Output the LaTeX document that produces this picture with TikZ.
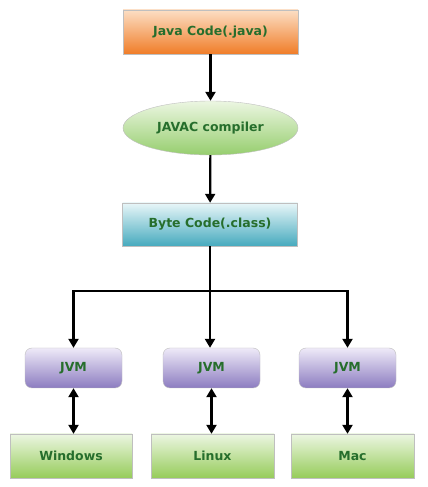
\documentclass[tikz,border=0pt]{standalone}
\usepackage{fontspec}
\setmainfont{DejaVu Sans}
\usetikzlibrary{arrows.meta,shapes.geometric}

\definecolor{txtgreen}{RGB}{38,110,44}

\begin{document}
\begin{tikzpicture}[x=1pt,y=1pt,
    box/.style={rectangle, minimum width=175pt, minimum height=44pt, draw=gray!50,
        font=\bfseries\fontsize{12.5}{14}\selectfont, text=txtgreen},
    javabox/.style={box, top color={rgb,255:red,252;green,222;blue,196}, bottom color={rgb,255:red,240;green,125;blue,40}},
    bytebox/.style={box, minimum height=43pt, top color={rgb,255:red,232;green,246;blue,248}, bottom color={rgb,255:red,70;green,170;blue,190}},
    jvmbox/.style={box, rounded corners=7pt, minimum width=97pt, minimum height=40pt,
        top color={rgb,255:red,238;green,234;blue,248}, bottom color={rgb,255:red,140;green,124;blue,192}},
    osbox/.style={box, minimum width=122pt, minimum height=44pt,
        top color={rgb,255:red,236;green,246;blue,226}, bottom color={rgb,255:red,150;green,204;blue,90}},
    arr/.style={line width=2.2pt, -{Triangle[length=9pt,width=10pt]}},
    darr/.style={line width=2.2pt, {Triangle[length=9pt,width=10pt]}-{Triangle[length=9pt,width=10pt]}}
]
\useasboundingbox (0,0) rectangle (428,487);
\fill[white] (0,0) rectangle (428,487);

% Compile steps
\node[javabox] (java) at (210.5,455) {Java Code(.java)};
\node[ellipse, minimum width=175pt, minimum height=54pt, draw=gray!50,
    top color={rgb,255:red,236;green,246;blue,226}, bottom color={rgb,255:red,150;green,206;blue,110},
    font=\bfseries\fontsize{12.5}{14}\selectfont, text=txtgreen] (javac) at (210.5,359) {JAVAC compiler};
\node[bytebox] (byte) at (210,262.5) {Byte Code(.class)};
\coordinate (split) at (210,196);

% JVMs
\node[jvmbox] (jvmwin) at (73.5,119) {JVM};
\node[jvmbox] (jvmlin) at (211.5,119) {JVM};
\node[jvmbox] (jvmmac) at (347.5,119) {JVM};

% Platforms
\node[osbox] (win) at (71,31) {Windows};
\node[osbox, minimum width=123pt] (lin) at (212.5,31) {Linux};
\node[osbox, minimum width=123pt] (mac) at (352.5,31) {Mac};

% Arrows
\draw[arr] (java) -- (javac);
\draw[arr] (javac) -- (byte);
\draw[line width=2.2pt] (byte) -- (split);
\draw[arr] (split) -| (jvmwin.north);
\draw[arr] (split) -- (split |- jvmlin.north);
\draw[arr] (split) -| (jvmmac.north);
\draw[darr] (jvmwin.south) -- (jvmwin.south |- win.north);
\draw[darr] (jvmlin.south) -- (jvmlin.south |- lin.north);
\draw[darr] (jvmmac.south) -- (jvmmac.south |- mac.north);

\end{tikzpicture}
\end{document}
